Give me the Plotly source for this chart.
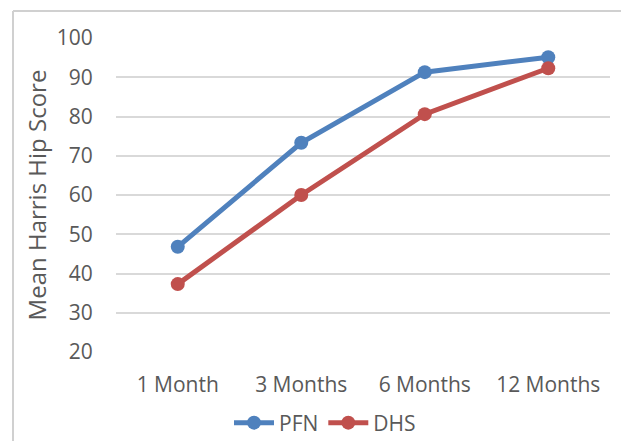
import plotly.graph_objects as go

categories = ["1 Month", "3 Months", "6 Months", "12 Months"]
pfn_values = [46.8, 73.3, 91.3, 95.1]
dhs_values = [37.3, 60.0, 80.6, 92.3]
y_ticks = [20, 30, 40, 50, 60, 70, 80, 90, 100]

BLUE = "#4F81BD"
RED = "#C0504D"
FONT = "Open Sans"
TXT = "#595959"

W, H = 621, 441
L, R, T, B = 116, 11, 38, 89
pw, ph = W - L - R, H - T - B

fig = go.Figure()
fig.add_trace(go.Scatter(x=categories, y=pfn_values, name="PFN", mode="lines+markers",
                         line=dict(color=BLUE, width=5), marker=dict(color=BLUE, size=14)))
fig.add_trace(go.Scatter(x=categories, y=dhs_values, name="DHS", mode="lines+markers",
                         line=dict(color=RED, width=5), marker=dict(color=RED, size=14)))

def px_x(p):
    return (p - L) / pw

def px_y(q):
    return (H - B - q) / ph

fig.update_layout(
    width=W, height=H,
    margin=dict(l=L, r=R, t=T, b=B, autoexpand=False),
    paper_bgcolor="white", plot_bgcolor="white",
    font=dict(family=FONT, size=21, color=TXT),
    showlegend=True,
    legend=dict(orientation="h", x=px_x(325), xanchor="center", y=px_y(423), yanchor="middle",
                font=dict(family=FONT, size=21, color=TXT), itemwidth=40, tracegroupgap=0),
    xaxis=dict(showgrid=False, showline=False, zeroline=False, ticks="outside", ticklen=14,
               tickcolor="rgba(0,0,0,0)", tickfont=dict(size=21, color=TXT), range=[-0.5, 3.5],
               automargin=False),
    yaxis=dict(range=[20, 100], tickvals=y_ticks, showgrid=True, gridcolor="#D9D9D9", gridwidth=1.5,
               zeroline=False, showline=False, ticks="outside", ticklen=18, tickcolor="rgba(0,0,0,0)",
               tickfont=dict(size=21, color=TXT), automargin=False,
               title=dict(text="Mean Harris Hip Score", font=dict(size=24, color=TXT), standoff=3)),
    shapes=[
        dict(type="line", xref="paper", yref="paper", x0=px_x(13), x1=px_x(13), y0=px_y(11), y1=px_y(445),
             line=dict(color="#D0D0D0", width=2), layer="above"),
        dict(type="line", xref="paper", yref="paper", x0=px_x(13), x1=px_x(625), y0=px_y(11), y1=px_y(11),
             line=dict(color="#D0D0D0", width=2), layer="above"),
    ],
)
fig.write_html("out.html", config={"displayModeBar": False},
               post_script="document.body.style.margin='0';document.body.style.overflow='hidden';")
